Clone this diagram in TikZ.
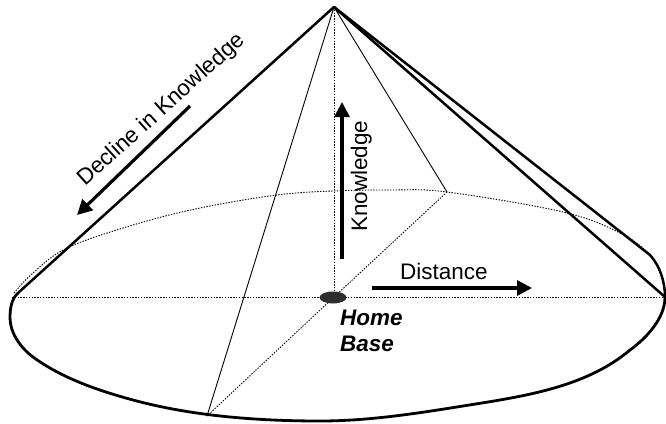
\documentclass[tikz,border=0pt]{standalone}
\usepackage{fontspec}
\setmainfont{Liberation Sans}
\usetikzlibrary{arrows.meta,shapes.geometric}
\begin{document}
\begin{tikzpicture}[x=1pt,y=-1pt,
  edge/.style={line width=2.5pt, line join=round, line cap=round},
  thinline/.style={line width=0.9pt},
  dotline/.style={line width=0.9pt, dash pattern=on 1.4pt off 1.4pt},
  bigarrow/.style={line width=3.2pt, -{Triangle[length=15pt,width=15pt]}},
  lbl/.style={font=\fontsize{22.5}{26}\selectfont, inner sep=0pt}]
\useasboundingbox (0,0) rectangle (666,423);
% key points
\coordinate (apex) at (334,7);
\coordinate (L) at (12,297);
\coordinate (R) at (665,297);
\coordinate (C) at (334,297);
\coordinate (T) at (447,192);
\coordinate (B) at (207,416);
\coordinate (LT) at (18,293);
\coordinate (RT) at (650,255);
% back (dotted) half of base
\draw[dotline] plot[smooth, tension=0.6] coordinates {(14,293) (33,273) (67,248) (133,225) (200,208) (277,195) (333,191) (390,190) (447,192) (563,212) (620,233) (650,255) (662,277) (665,297)};
% dotted axes
\draw[dotline] (L) -- (R);
\draw[dotline] (apex) -- (C);
\draw[dotline] (T) -- (C) -- (B);
% thin edges inside
\draw[thinline] (apex) -- (T);
\draw[thinline] (apex) -- (B);
% front (solid) half of base
\draw[edge, line width=2.8pt] (LT)
  .. controls (11.3,299) and (10,309) .. (10,318)
  .. controls (10,333) and (20.9,348.1) .. (33,357)
  .. controls (62,378.2) and (98.3,390.6) .. (133,400)
  .. controls (192.8,416.2) and (258,421) .. (320,421)
  .. controls (368,421) and (415.6,413.6) .. (463,406)
  .. controls (521.3,396.7) and (585,388) .. (630,350)
  .. controls (647,337.6) and (665,318) .. (R);
% cone outline
\draw[edge] (LT) -- (apex) -- (RT) .. controls (660,266) and (665,282) .. (R);
\draw[edge] (apex) -- (R);
% home base
\node[ellipse, fill=black!82, minimum width=27pt, minimum height=12pt, inner sep=0pt] (hb) at (333,297.5) {};
% arrows
\coordinate (k1) at (342,259);
\coordinate (k2) at (342,102);
\draw[bigarrow] (k1) -- (k2);
\coordinate (d1) at (372,288);
\coordinate (d2) at (532,288);
\draw[bigarrow] (d1) -- (d2);
\coordinate (c1) at (190,106);
\coordinate (c2) at (77,215);
\draw[bigarrow] (c1) -- (c2);
% labels
\node[lbl, anchor=base west, rotate=90] (know) at (367,232) {Knowledge};
\node[lbl, anchor=base west] (dist) at (400,279) {Distance};
\node[lbl, anchor=base west, font=\fontsize{22.5}{26}\selectfont\bfseries\itshape] (home) at (340,325) {Home};
\node[lbl, anchor=base west, font=\fontsize{22.5}{26}\selectfont\bfseries\itshape] (base) at (340,351) {Base};
\node[lbl, anchor=base west, rotate=42] (dec) at (85,187) {Decline in Knowledge};
\end{tikzpicture}
\end{document}
